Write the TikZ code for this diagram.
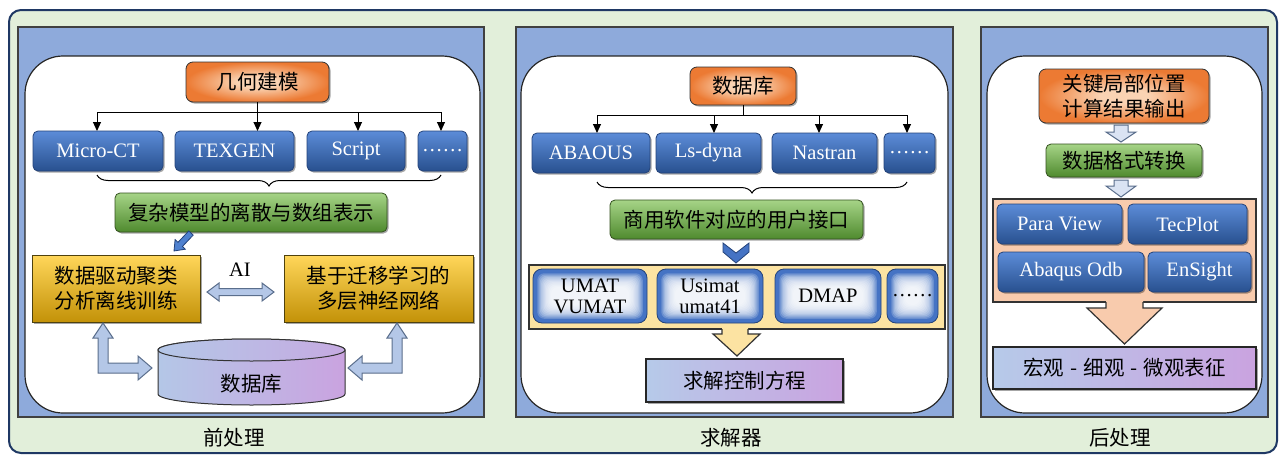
\documentclass[tikz,border=0pt]{standalone}
\usepackage{fontspec}
\setmainfont{Liberation Serif}
\newfontfamily\cjk{Noto Sans CJK SC}
\usetikzlibrary{arrows.meta,decorations.pathreplacing,shadows,calc}
\definecolor{outerG}{HTML}{E2EFDA}
\definecolor{navy}{HTML}{1F3864}
\definecolor{panB}{HTML}{8EAADB}
\definecolor{bT}{HTML}{5C8CD8}
\definecolor{bB}{HTML}{28508F}
\definecolor{bbord}{HTML}{24437A}
\definecolor{gT}{HTML}{A6D487}
\definecolor{gB}{HTML}{4F8A2E}
\definecolor{gbord}{HTML}{34521F}
\definecolor{yT}{HTML}{FFD65A}
\definecolor{yB}{HTML}{C39208}
\definecolor{ybord}{HTML}{4F420E}
\definecolor{pL}{HTML}{B6CAE9}
\definecolor{pR}{HTML}{CAA3E0}
\definecolor{orL}{HTML}{FAD3B3}
\definecolor{orD}{HTML}{EC7A33}
\definecolor{gb}{HTML}{4573C4}
\definecolor{yC}{HTML}{FCE3A2}
\definecolor{peach}{HTML}{F8CBAD}
\definecolor{hb}{HTML}{B4C7E7}
\definecolor{hbd}{HTML}{5A6E8C}
\definecolor{hb3}{HTML}{DAE3F3}
\definecolor{darrow}{HTML}{4F81CF}
\pgfdeclareradialshading{orglow}{\pgfpoint{0bp}{0bp}}{color(0bp)=(orL); color(7bp)=(orL); color(25bp)=(orD); color(50bp)=(orD)}
\tikzset{
  every node/.style={inner sep=0pt, outer sep=0pt},
  fs/.style={font=\fontsize{20.5}{24}\selectfont},
  cfs/.style={font=\cjk\fontsize{20.5}{25}\selectfont},
  shd/.style={drop shadow={shadow xshift=1.5pt,shadow yshift=-1.5pt,opacity=0.35,fill=black}},
  bluebox/.style={draw=bbord, line width=0.8pt, rounded corners=5pt, top color=bT, bottom color=bB, text=white, fs, shd, minimum height=40pt},
  orbox/.style={draw=black!80, line width=0.8pt, rounded corners=7pt, shade, shading=orglow, cfs, shd, align=center},
  grbox/.style={draw=gbord, line width=0.8pt, rounded corners=5pt, top color=gT, bottom color=gB, cfs, shd},
  yebox/.style={draw=ybord, line width=0.8pt, top color=yT, bottom color=yB, cfs, align=center, shd},
  gdbox/.style={draw=black!85, line width=1.4pt, left color=pL, right color=pR, cfs, shd},
  glowbox/.style={draw=bbord, line width=0.8pt, rounded corners=9pt, fill=gb,
    font=\fontsize{20.5}{21}\selectfont, align=center, minimum height=54pt,
    path picture={
      \foreach \k in {1,...,12}{
        \fill[white, opacity=0.2, rounded corners=7pt]
          ($(path picture bounding box.south west)+(\k*1.25+3,-\k*1.25-3)$) rectangle
          ($(path picture bounding box.north east)+(-\k*1.25-3,\k*1.25+3)$);
      }
    }},
  arr/.style={line width=1pt, -{Triangle[length=9pt,width=8pt]}},
  hol/.style={fill=hb, draw=hbd, line width=1pt, line join=miter},
  panel/.style={fill=panB, draw=black!75, line width=1.2pt},
  inner/.style={fill=white, draw=black!85, line width=1.2pt, rounded corners=38pt},
  brc/.style={line width=1pt, decorate, decoration={brace, mirror, amplitude=11pt}},
}
\begin{document}
\begin{tikzpicture}[x=1pt,y=-1pt]
\useasboundingbox (0,0) rectangle (1279,455);
% outer
\filldraw[fill=outerG, draw=navy, line width=2pt, rounded corners=12pt] (9,10) rectangle (1277,453);
% panels
\filldraw[panel] (18,27) rectangle (484,417);
\filldraw[inner] (25,56) rectangle (480,413);
\filldraw[panel] (516,27) rectangle (953,417);
\filldraw[inner] (521,56) rectangle (948,413);
\filldraw[panel] (981,27) rectangle (1268,417);
\filldraw[inner] (987,56) rectangle (1262,413);

% ---------- panel 1 ----------
\node[orbox, minimum width=143pt, minimum height=40pt] (geo) at (257.5,82) {几何建模};
\node[bluebox, minimum width=130pt] (mct) at (98,151) {Micro-CT};
\node[bluebox, minimum width=119pt] (tex) at (234.5,151) {TEXGEN};
\node[bluebox, minimum width=98pt] (scr) at (356,151) {Script};
\node[bluebox, minimum width=49pt] (d1) at (442.5,151) {……};
\draw[arr] (geo.south) -- (geo.south |- tex.north);
\draw[arr] (geo.south) -- ++(0,10) -| ([xshift=-1pt]mct.north);
\draw[arr] (geo.south) -- ++(0,10) -| ([xshift=2pt]scr.north);
\draw[arr] (geo.south) -- ++(0,10) -| ([xshift=-1.5pt]d1.north);
\draw[brc] ($(mct.south)+(-1,4)$) -- ($(d1.south)+(-1.5,4)$);
\node[grbox, minimum width=272pt, minimum height=39pt] (grp1) at (251,212.5) {复杂模型的离散与数组表示};
\node[yebox, minimum width=168pt, minimum height=67pt] (y1) at (116,288.5) {数据驱动聚类\\分析离线训练};
\node[yebox, minimum width=189pt, minimum height=67pt] (y2) at (378.5,288.5) {基于迁移学习的\\多层神经网络};
\node[fs] (ai) at (240,270) {AI};
% diagonal arrow
\filldraw[fill=darrow, draw=bbord, line width=0.8pt, line join=miter]
  (193.2,235.1) -- (182.4,246.5) -- (185.3,249.2) -- (174,251) -- (175.1,239.6) -- (178,242.3) -- (188.8,230.9) -- cycle;
% AI double arrow
\filldraw[hol] (207,292) -- (219,283) -- (219,288.5) -- (262,288.5) -- (262,283) -- (274,292) -- (262,301) -- (262,295.5) -- (219,295.5) -- (219,301) -- cycle;
% cylinder
\path[left color=hb, right color=pR, draw=black!80, line width=1pt]
  (158,350) -- (158,394) arc[start angle=180, end angle=0, x radius=93.5, y radius=11]
  -- (345,350) arc[start angle=0, end angle=-180, x radius=93.5, y radius=11] -- cycle;
\path[left color=hb, right color=pR!80!hb, draw=black!80, line width=1pt] (251.5,350) ellipse [x radius=93.5, y radius=11];
\node[cfs] (db1) at (251.5,384) {数据库};
% elbow arrows
\filldraw[hol] (103,323) -- (113,338) -- (108,338) -- (108,363) -- (138,363) -- (138,356) -- (152,368) -- (138,380) -- (138,373) -- (98,373) -- (98,338) -- (93,338) -- cycle;
\filldraw[hol] (397,323) -- (407,338) -- (402,338) -- (402,373) -- (362,373) -- (362,380) -- (348,368) -- (362,356) -- (362,363) -- (392,363) -- (392,338) -- (387,338) -- cycle;
\node[cfs] (l1) at (234,438) {前处理};

% ---------- panel 2 ----------
\node[orbox, minimum width=106pt, minimum height=38pt] (db2) at (743,86) {数据库};
\node[bluebox, minimum width=118pt] (abq) at (591,153) {ABAOUS};
\node[bluebox, minimum width=105pt] (lsd) at (708.5,153) {Ls-dyna};
\node[bluebox, minimum width=105pt] (nas) at (824.5,153) {Nastran};
\node[bluebox, minimum width=51pt] (d2) at (909.5,153) {……};
\draw[arr] (db2.south) -- ++(0,10) -| ([xshift=6pt]abq.north);
\draw[arr] (db2.south) -- ++(0,10) -| ([xshift=5.5pt]lsd.north);
\draw[arr] (db2.south) -- ++(0,10) -| ([xshift=-5.5pt]nas.north);
\draw[arr] (db2.south) -- ++(0,10) -| ([xshift=-2.5pt]d2.north);
\draw[brc] ($(abq.south)+(6,9)$) -- ($(d2.south)+(-2.5,9)$);
\node[grbox, minimum width=253pt, minimum height=39pt] (grp2) at (736.5,219.5) {商用软件对应的用户接口};
% chevron
\filldraw[fill=gb, draw=bbord, line width=0.8pt, line join=miter] (723,243) -- (736,253) -- (749,243) -- (749,252) -- (736,263) -- (723,252) -- cycle;
\node[draw=black!80, line width=1.2pt, fill=yC, minimum width=416pt, minimum height=64pt] (cont) at (737,297) {};
\node[glowbox, minimum width=114pt] (u1) at (590,296) {UMAT\\VUMAT};
\node[glowbox, minimum width=106pt] (u2) at (710,296) {Usimat\\umat41};
\node[glowbox, minimum width=106pt] (u3) at (828,296) {DMAP};
\node[glowbox, minimum width=51pt] (u4) at (912.5,296) {……};
\fill[yC] (722,327) -- (722,334) -- (713,334) -- (737,356) -- (760,334) -- (748,334) -- (748,327) -- cycle;
\draw[line width=1.2pt, draw=black!80, line join=miter] (722,329) -- (722,334) -- (713,334) -- (737,356) -- (760,334) -- (748,334) -- (748,329);
\node[gdbox, minimum width=197pt, minimum height=43pt] (solve) at (744.5,380.5) {求解控制方程};
\node[cfs] (l2) at (731,438) {求解器};

% ---------- panel 3 ----------
\node[orbox, minimum width=170pt, minimum height=54pt] (out) at (1124,96) {关键局部位置\\计算结果输出};
\filldraw[fill=hb3, draw=hbd, line width=1pt, line join=miter] (1114,125) -- (1128,125) -- (1128,132) -- (1136,132) -- (1121,142) -- (1106,132) -- (1114,132) -- cycle;
\node[grbox, minimum width=156pt, minimum height=33pt] (conv) at (1124,160.5) {数据格式转换};
\filldraw[fill=hb3, draw=hbd, line width=1pt, line join=miter] (1114,180) -- (1128,180) -- (1128,186) -- (1136,186) -- (1121,197) -- (1106,186) -- (1114,186) -- cycle;
\node[draw=black!80, line width=1.2pt, fill=peach, minimum width=263pt, minimum height=103pt] (pc) at (1124.5,250.5) {};
\node[bluebox, minimum width=125pt] (pv) at (1059.5,224) {Para View};
\node[bluebox, minimum width=119pt] (tp) at (1187.5,224) {TecPlot};
\node[bluebox, minimum width=146pt] (ao) at (1071,272) {Abaqus Odb};
\node[bluebox, minimum width=103pt] (es) at (1199.5,272) {EnSight};
\fill[peach] (1106,300) -- (1106,308) -- (1087,308) -- (1124.5,344) -- (1162,308) -- (1143,308) -- (1143,300) -- cycle;
\draw[line width=1.2pt, draw=black!80, line join=miter] (1106,302) -- (1106,308) -- (1087,308) -- (1124.5,344) -- (1162,308) -- (1143,308) -- (1143,302);
\node[gdbox, minimum width=263pt, minimum height=42pt] (char) at (1124.5,368) {宏观\hspace{6pt}-\hspace{6pt}细观\hspace{6pt}-\hspace{6pt}微观表征};
\node[cfs] (l3) at (1120,438) {后处理};
\end{tikzpicture}
\end{document}
